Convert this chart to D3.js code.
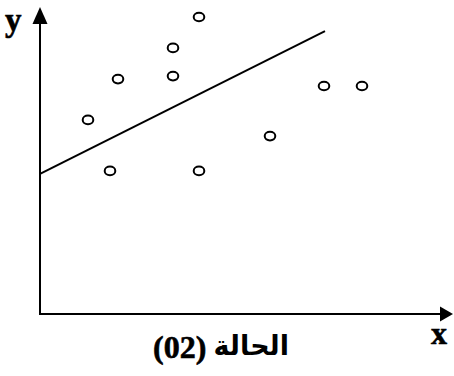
<!DOCTYPE html>
<html lang="ar">
<head>
<meta charset="UTF-8">
<title>الحالة (02)</title>
<style>
    html, body { margin: 0; padding: 0; background: #fff; overflow: hidden; }
    svg { display: block; }
</style>
</head>
<body>
<div id="chart"></div>
<script src="https://cdn.jsdelivr.net/npm/d3@7"></script>
<script>
    const pointX = [1.2, 1.75, 1.95, 3.325, 3.325, 3.975, 3.975, 5.75, 7.1, 8.05];
    const pointY = [6.47, 4.77, 7.83, 8.87, 7.93, 9.9, 4.77, 5.93, 7.6, 7.6];
    // fitted line end points
    const lineX = [0, 7.125];
    const lineY = [4.67, 9.43];
    const axisLabels = ['x', 'y'];
    const caseWord = 'الحالة';
    const caseNum = '(02)';

    const W = 454, H = 376;
    const svg = d3.select('#chart').append('svg')
        .attr('width', W).attr('height', H);

    const x = d3.scaleLinear().domain([0, 10]).range([40, 440]);
    const y = d3.scaleLinear().domain([0, 10]).range([314, 14]);

    const ink = '#000';
    const serif = '"Liberation Serif", "Times New Roman", serif';

    // axes (no ticks, only arrows)
    svg.append('line')
        .attr('x1', x(0)).attr('y1', y(0)).attr('x2', x(0)).attr('y2', 22)
        .attr('stroke', ink).attr('stroke-width', 2);
    svg.append('line')
        .attr('x1', x(0) - 1).attr('y1', y(0)).attr('x2', 442).attr('y2', y(0))
        .attr('stroke', ink).attr('stroke-width', 2);

    // arrow heads
    svg.append('path')
        .attr('d', `M${x(0)},7 L${x(0) + 7.5},24 L${x(0) - 7.5},24 Z`)
        .attr('fill', ink);
    svg.append('path')
        .attr('d', `M453,${y(0)} L440,${y(0) - 7.5} L440,${y(0) + 7.5} Z`)
        .attr('fill', ink);

    // axis letters
    svg.append('text')
        .attr('x', 5).attr('y', 31)
        .attr('font-family', serif)
        .attr('font-weight', 'bold').attr('font-size', 33)
        .attr('stroke', ink).attr('stroke-width', 0.6)
        .text(axisLabels[1]);
    svg.append('text')
        .attr('x', 431).attr('y', 344)
        .attr('font-family', serif)
        .attr('font-weight', 'bold').attr('font-size', 32)
        .attr('stroke', ink).attr('stroke-width', 0.6)
        .text(axisLabels[0]);

    // regression line
    svg.append('line')
        .attr('x1', x(lineX[0])).attr('y1', y(lineY[0]))
        .attr('x2', x(lineX[1])).attr('y2', y(lineY[1]))
        .attr('stroke', ink).attr('stroke-width', 2);

    // points as small open ellipses
    svg.selectAll('ellipse.pt')
        .data(d3.zip(pointX, pointY))
        .join('ellipse')
        .attr('class', 'pt')
        .attr('cx', d => x(d[0]))
        .attr('cy', d => y(d[1]))
        .attr('rx', 5.3).attr('ry', 4.3)
        .attr('fill', 'none')
        .attr('stroke', ink).attr('stroke-width', 2);

    // caption
    svg.append('text')
        .attr('x', 153).attr('y', 358)
        .attr('font-family', serif)
        .attr('font-weight', 'bold').attr('font-size', 32)
        .attr('stroke', ink).attr('stroke-width', 0.6)
        .text(caseNum);
    svg.append('text')
        .attr('x', 289).attr('y', 355)
        .attr('text-anchor', 'start')
        .attr('direction', 'rtl')
        .attr('font-family', '"DejaVu Sans", sans-serif')
        .attr('font-weight', 'bold').attr('font-size', 27)
        .text(caseWord);
</script>
</body>
</html>
